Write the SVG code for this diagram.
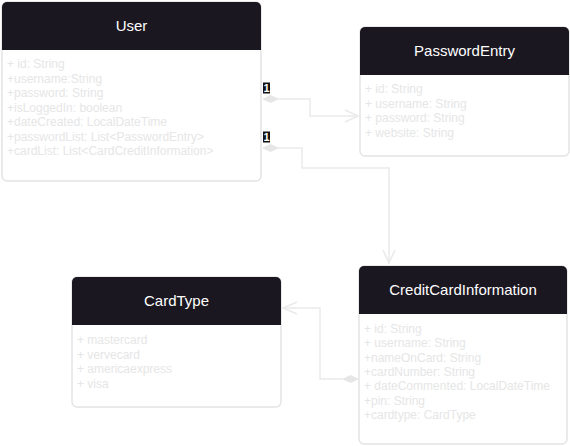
<svg xmlns="http://www.w3.org/2000/svg" width="570" height="446" viewBox="0 0 570 446">
<defs>
<style>
.box{fill:#ffffff;stroke:#e4e4e4;stroke-width:1.5}
.hdr{fill:#1b1720}
.title{font-family:"Liberation Sans",Arial,sans-serif;font-size:15px;fill:#ffffff;text-anchor:middle}
.attr{font-family:"Liberation Sans",Arial,sans-serif;font-size:12px;fill:#e6e6e6}
.line{fill:none;stroke:#eaeaea;stroke-width:1.5}
.dia{fill:#e6e6e6;stroke:#e6e6e6;stroke-width:1}
.lblbg{fill:#111111}
.lbl{font-family:"Liberation Sans",Arial,sans-serif;font-size:11px;font-weight:bold;fill:#ffffff;text-anchor:middle}
</style>
</defs>
<rect width="570" height="446" fill="#ffffff"/>
<g id="connectors">
<path class="line" d="M278 99 H310 V116 H358"/>
<path class="line" d="M345 110 L358 116 L345 122"/>
<polygon class="dia" points="263,99 270.5,95.5 278,99 270.5,102.5"/>
<rect class="lblbg" x="263" y="82.5" width="7" height="11"/>
<text class="lbl" x="266.5" y="92">1</text>
<path class="line" d="M278 148 H302 V168 H389 V263"/>
<path class="line" d="M383 250 L389 263 L395 250"/>
<polygon class="dia" points="263,148 270.5,144.5 278,148 270.5,151.5"/>
<rect class="lblbg" x="263" y="131.5" width="7" height="11"/>
<text class="lbl" x="266.5" y="141">1</text>
<path class="line" d="M343 379 H320 V308 H283"/>
<path class="line" d="M297 302 L283 308 L297 314"/>
<polygon class="dia" points="358,379 350.5,375.5 343,379 350.5,382.5"/>
<rect class="lblbg" x="359" y="369.5" width="7" height="11"/>
<text class="lbl" x="362.5" y="379">1</text>
</g>
<g id="User">
<rect class="box" x="2" y="2" width="259" height="179" rx="5"/>
<path class="hdr" d="M2 50 V7 A5 5 0 0 1 7 2 H256 A5 5 0 0 1 261 7 V50 Z"/>
<text class="title" x="131.5" y="31">User</text>
<text class="attr" x="7" y="68">+ id: String</text>
<text class="attr" x="7" y="82.5">+username:String</text>
<text class="attr" x="7" y="97">+password: String</text>
<text class="attr" x="7" y="111.5">+isLoggedIn: boolean</text>
<text class="attr" x="7" y="126">+dateCreated: LocalDateTime</text>
<text class="attr" x="7" y="140.5">+passwordList: List&lt;PasswordEntry&gt;</text>
<text class="attr" x="7" y="155">+cardList: List&lt;CardCreditInformation&gt;</text>
</g>
<g id="PasswordEntry">
<rect class="box" x="360" y="27" width="209" height="129" rx="5"/>
<path class="hdr" d="M360 75 V32 A5 5 0 0 1 365 27 H564 A5 5 0 0 1 569 32 V75 Z"/>
<text class="title" x="464.5" y="56">PasswordEntry</text>
<text class="attr" x="365" y="93">+ id: String</text>
<text class="attr" x="365" y="107.5">+ username: String</text>
<text class="attr" x="365" y="122">+ password: String</text>
<text class="attr" x="365" y="136.5">+ website: String</text>
</g>
<g id="CreditCardInformation">
<rect class="box" x="359" y="266" width="208" height="178" rx="5"/>
<path class="hdr" d="M359 314 V271 A5 5 0 0 1 364 266 H562 A5 5 0 0 1 567 271 V314 Z"/>
<text class="title" x="463" y="295">CreditCardInformation</text>
<text class="attr" x="364" y="333">+ id: String</text>
<text class="attr" x="364" y="347.3">+ username: String</text>
<text class="attr" x="364" y="361.6">+nameOnCard: String</text>
<text class="attr" x="364" y="375.9">+cardNumber: String</text>
<text class="attr" x="364" y="390.2">+ dateCommented: LocalDateTime</text>
<text class="attr" x="364" y="404.5">+pin: String</text>
<text class="attr" x="364" y="418.8">+cardtype: CardType</text>
</g>
<g id="CardType">
<rect class="box" x="72" y="277" width="209" height="130" rx="5"/>
<path class="hdr" d="M72 325 V282 A5 5 0 0 1 77 277 H276 A5 5 0 0 1 281 282 V325 Z"/>
<text class="title" x="176.5" y="306">CardType</text>
<text class="attr" x="77" y="344">+ mastercard</text>
<text class="attr" x="77" y="358.5">+ vervecard</text>
<text class="attr" x="77" y="373">+ americaexpress</text>
<text class="attr" x="77" y="387.5">+ visa</text>
</g>
</svg>
